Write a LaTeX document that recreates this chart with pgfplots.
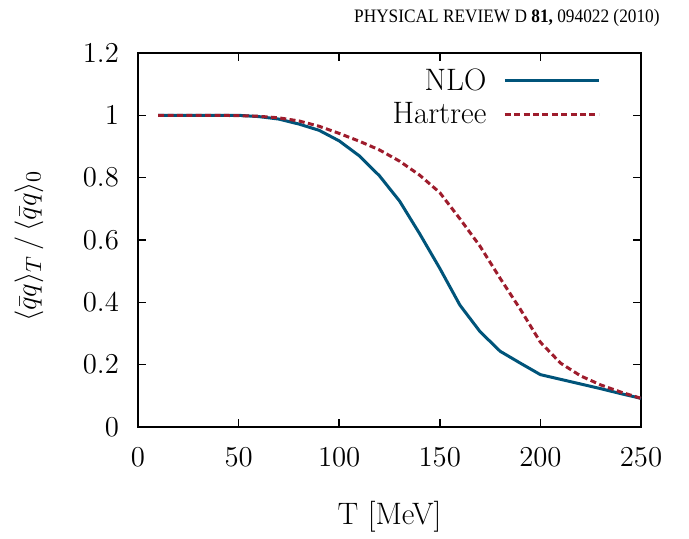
\documentclass[border=0pt]{standalone}
\usepackage{fontspec}
\newfontfamily\hdr{Liberation Serif}
\usepackage{pgfplots}
\pgfplotsset{compat=1.18}
\definecolor{nloblue}{RGB}{0,84,122}
\definecolor{hartred}{RGB}{158,28,44}
\begin{document}
\begin{tikzpicture}
\begin{axis}[
  scale only axis,
  width=251.5pt, height=187pt,
  xmin=0, xmax=250, ymin=0, ymax=1.2,
  xtick={0,50,100,150,200,250},
  ytick={0,0.2,0.4,0.6,0.8,1,1.2},
  yticklabel style={/pgf/number format/fixed, xshift=-6pt},
  xticklabel style={yshift=-7pt},
  tick align=inside,
  tick pos=both,
  major tick length=4pt,
  minor tick num=0,
  axis line style={line width=0.8pt, black},
  every tick/.style={line width=0.8pt, black},
  font=\fontsize{15.5}{18}\selectfont,
  tick label style={font=\fontsize{15.5}{18}\selectfont},
  xlabel={T [MeV]},
  ylabel={$\langle\bar q q\rangle_T\,/\,\langle\bar q q\rangle_0$},
  xlabel style={at={(axis description cs:0.5,0)}, anchor=north, yshift=-33.5pt},
  ylabel style={at={(axis description cs:-0.2167,0.484)}, anchor=center},
  legend plot pos=right,
  legend cell align=right,
  legend style={draw=none, fill=none, at={(rel axis cs:0.92,0.97)}, anchor=north east,
    font=\fontsize{15.5}{18}\selectfont, row sep=0.5pt, inner sep=0pt},
  legend image code/.code={\path (0pt,0pt); \draw[#1] (6.5pt,0pt) -- (53.5pt,0pt);},
  clip=false,
]
\addplot[nloblue, line width=1.5pt] coordinates {
(10,1.0) (20,1.0) (30,1.0) (40,1.0) (50,1.0) (60,0.996) (70,0.988) (80,0.972)
(90,0.952) (100,0.918) (110,0.870) (120,0.806) (130,0.725) (140,0.620)
(150,0.509) (160,0.391) (170,0.306) (180,0.243) (190,0.205) (200,0.168)
(210,0.153) (220,0.138) (230,0.123) (240,0.107) (250,0.092)
};
\addlegendentry{NLO}
\addplot[hartred, line width=1.5pt, dash pattern=on 3pt off 1.7pt] coordinates {
(10,1.0) (20,1.0) (30,1.0) (40,1.0) (50,0.999) (60,0.997) (70,0.992) (80,0.982)
(90,0.965) (100,0.942) (110,0.917) (120,0.889) (130,0.853) (140,0.808)
(150,0.752) (160,0.668) (170,0.580) (180,0.477) (190,0.378) (200,0.272)
(210,0.205) (220,0.164) (230,0.135) (240,0.112) (250,0.092)
};
\addlegendentry{Hartree}
\end{axis}
\node[anchor=north east, font=\fontsize{9.5}{11}\selectfont\hdr, inner sep=0pt] at (261pt,209pt) {\scalebox{0.91}[1]{PHYSICAL REVIEW D \textbf{81,} 094022 (2010)}};
\path[use as bounding box] (-69pt,-53pt) rectangle (275.5pt,213.5pt);
\end{tikzpicture}
\end{document}
